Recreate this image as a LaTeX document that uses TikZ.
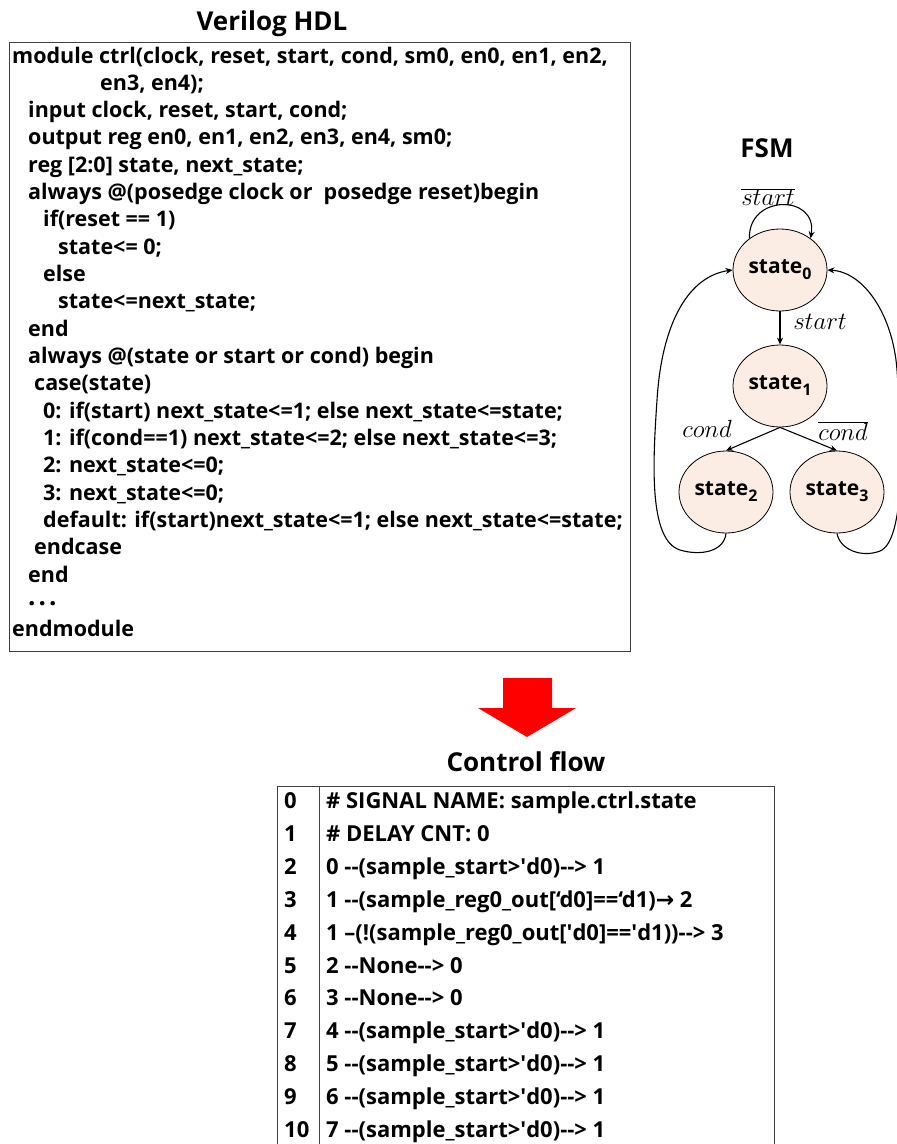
\documentclass[tikz,border=0pt]{standalone}
\usepackage{fontspec}
\setmainfont{Open Sans}
\newfontfamily\arrowfont{DejaVu Sans}
\usetikzlibrary{arrows.meta}
\usetikzlibrary{shapes.geometric}
\definecolor{mpeach}{RGB}{251,237,227}
\definecolor{mframe}{RGB}{64,64,64}
\definecolor{mred}{RGB}{255,0,0}
\tikzset{title/.style = {inner sep=0, font=\fontsize{26}{26}\selectfont\bfseries}}
\tikzset{frame/.style = {draw=mframe, line width=1pt}}
\tikzset{codeline/.style = {anchor=west, inner sep=0, text height=16pt, text depth=4pt,
                            font=\fontsize{21.5}{21.5}\selectfont\bfseries}}
\tikzset{cfline/.style = {anchor=west, inner sep=0, text height=16pt, text depth=5pt,
                          font=\fontsize{22}{22}\selectfont\bfseries}}
\tikzset{state/.style = {ellipse, draw=black, line width=0.8pt, fill=mpeach, inner sep=0,
                         minimum width=94pt, minimum height=82pt,
                         font=\fontsize{21}{21}\selectfont\bfseries}}
\tikzset{fsmarrow/.style = {-{Stealth[length=7pt,width=6pt]}, line width=1.1pt}}
\tikzset{cond/.style = {inner sep=0, font=\fontsize{24}{24}\selectfont}}
\newcommand\stsub[1]{\raisebox{-6pt}{\fontsize{16}{16}\selectfont #1}}
\newcommand\dhy{-\kern0pt-}

\begin{document}
\begin{tikzpicture}[x=1pt, y=1pt]
  \useasboundingbox (0, 0) rectangle (897, -1144);

  % Verilog source
  \node[title] (hdltitle) at (272, -24) {Verilog HDL};
  \draw[frame] (9, -42) rectangle (630, -651);
  \foreach \ind/\txt [count=\i] in {
      12/{module ctrl(clock, reset, start, cond, sm0, en0, en1, en2,},
      100/{en3, en4);},
      28/{input clock, reset, start, cond;},
      28/{output reg en0, en1, en2, en3, en4, sm0;},
      28/{reg [2:0] state, next\_state;},
      28/{always @(posedge clock or~ posedge reset)begin},
      43/{if(reset == 1)},
      58/{state<= 0;},
      43/{else},
      58/{state<=next\_state;},
      28/{end},
      28/{always @(state or start or cond) begin},
      34/{case(state)},
      43/{0: if(start) next\_state<=1; else next\_state<=state;},
      43/{1: if(cond==1) next\_state<=2; else next\_state<=3;},
      43/{2: next\_state<=0;},
      43/{3: next\_state<=0;},
      43/{default: if(start)next\_state<=1; else next\_state<=state;},
      34/{endcase},
      28/{end},
      28/{\raisebox{4pt}{\fontsize{26}{26}\selectfont.\hspace{3pt}.\hspace{3pt}.}},
      12/{endmodule}} {
    \node[codeline] (v\i) at (\ind, {-57-27.33*(\i-1)}) {\txt};
  }

  % state machine
  \node[title] (fsmtitle) at (767, -148) {FSM};
  \node[state] (s0) at (780, -270) {state\stsub{0}};
  \node[state] (s1) at (780, -386) {state\stsub{1}};
  \node[state] (s2) at (726, -492) {state\stsub{2}};
  \node[state] (s3) at (837, -492) {state\stsub{3}};

  \draw[fsmarrow] (s0.134) .. controls (748, -194) and (818, -194) .. (s0.46);
  \node[cond] (lblnstart) at (768, -197) {$\overline{start}$};
  \draw[fsmarrow] (s0.south) -- (s1.north);
  \node[cond] (lblstart) at (820, -322) {$start$};
  \draw[fsmarrow] (s1.south) -- (s2.north);
  \draw[fsmarrow] (s1.south) -- (s3.north);
  \node[cond] (lblcond) at (707, -429) {$cond$};
  \node[cond] (lblncond) at (843, -431) {$\overline{cond}$};
  \draw[fsmarrow] (s2.south) .. controls (724, -552) and (700, -556) .. (680, -550)
                              .. controls (648, -540) and (653, -460) .. (657, -400)
                              .. controls (662, -320) and (690, -276) .. (s0.west);
  \draw[fsmarrow] (s3.south) .. controls (840, -550) and (862, -558) .. (880, -551)
                              .. controls (906, -540) and (902, -440) .. (897, -370)
                              .. controls (893, -315) and (864, -272) .. (s0.east);

  % big red arrow
  \fill[mred] (503, -678) -- (552, -678) -- (552, -708) -- (576, -708) -- (527, -737)
              -- (478, -708) -- (503, -708) -- cycle;

  % control flow table
  \node[title] (cftitle) at (526, -762) {Control flow};
  \draw[frame] (277, -1144) -- (277, -786) -- (774, -786) -- (774, -1144);
  \draw[frame] (319, -786) -- (319, -1144);
  \foreach \n/\txt in {
      0/{\# SIGNAL NAME: sample.ctrl.state},
      1/{\# DELAY CNT: 0},
      2/{0 \dhy(sample\_start>\textquotesingle d0)\dhy> 1},
      3/{1 \dhy(sample\_reg0\_out[‘d0]==‘d1){\arrowfont\bfseries →} 2},
      4/{1 –(!(sample\_reg0\_out[\textquotesingle d0]==\textquotesingle d1))\dhy> 3},
      5/{2 \dhy None\dhy> 0},
      6/{3 \dhy None\dhy> 0},
      7/{4 \dhy(sample\_start>\textquotesingle d0)\dhy> 1},
      8/{5 \dhy(sample\_start>\textquotesingle d0)\dhy> 1},
      9/{6 \dhy(sample\_start>\textquotesingle d0)\dhy> 1},
      10/{7 \dhy(sample\_start>\textquotesingle d0)\dhy> 1}} {
    \node[cfline] (n\n) at (284, {-803-32.9*\n}) {\n};
    \node[cfline] (c\n) at (326, {-803-32.9*\n}) {\txt};
  }
\end{tikzpicture}
\end{document}
